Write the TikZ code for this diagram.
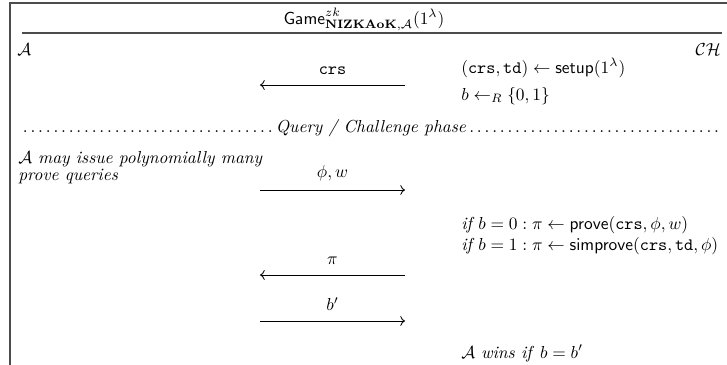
\documentclass[tikz,border=0pt]{standalone}
\usepackage{amsmath, amssymb}
\usepackage{tikz}
\usetikzlibrary{arrows.meta, positioning}

\begin{document}
\begin{tikzpicture}[
    x=0.575pt, y=-0.575pt,
    frame/.style={draw=black!70, line width=0.8pt},
    party/.style={inner sep=0pt},
    txt/.style={anchor=base west, inner sep=0pt},
    msg/.style={->, line width=0.5pt},
    lbl/.style={midway, anchor=base, inner sep=0pt, yshift=6pt},
]
\useasboundingbox (0,0) rectangle (727,364);

% frame
\begin{scope}
\clip (0,0) rectangle (727,364);
\draw[frame] (10,370) -- (10,3) -- (740,3);
\end{scope}
\coordinate (ruleL) at (22,33);
\coordinate (ruleR) at (722,33);
\draw[frame] (ruleL) -- (ruleR);

\node[anchor=base] (title) at (364,24) {$\mathsf{Game}^{zk}_{\mathbf{NIZKAoK},\mathcal{A}}(1^\lambda)$};

% parties
\node[party, anchor=base west] (adv) at (17,55) {$\mathcal{A}$};
\node[party, anchor=base east] (ch) at (721,55) {$\mathcal{CH}$};

% setup
\node[txt] (setup) at (461,73) {$(\mathtt{crs},\mathtt{td})\leftarrow\mathsf{setup}(1^\lambda)$};
\node[txt] (coin) at (461,100) {$b\leftarrow_R\{0,1\}$};
\coordinate (crsR) at (405,85);
\coordinate (crsL) at (260,85);
\draw[msg] (crsR) -- (crsL) node[lbl] (crslbl) {$\mathtt{crs}$};

% phase separator
\node[anchor=base, inner sep=0pt] (phase) at (371,132)
    {\makebox[404pt]{\dotfill\textit{Query / Challenge phase}\dotfill}};

% queries
\node[txt] (note1) at (18,163) {$\mathcal{A}$ \textit{may issue polynomially many}};
\node[txt] (note2) at (18,180) {\textit{prove queries}};
\coordinate (qL) at (260,190);
\coordinate (qR) at (405,190);
\draw[msg] (qL) -- (qR) node[lbl, yshift=1pt] (qlbl) {$\phi, w$};

\node[txt] (prv0) at (461,229) {$\textit{if } b=0:\pi\leftarrow\mathsf{prove}(\mathtt{crs},\phi,w)$};
\node[txt] (prv1) at (461,250) {$\textit{if } b=1:\pi\leftarrow\mathsf{simprove}(\mathtt{crs},\mathtt{td},\phi)$};
\coordinate (pR) at (405,275);
\coordinate (pL) at (260,275);
\draw[msg] (pR) -- (pL) node[lbl] (plbl) {$\pi$};

% guess
\coordinate (gL) at (260,321);
\coordinate (gR) at (405,321);
\draw[msg] (gL) -- (gR) node[lbl] (glbl) {$b'$};
\node[txt] (win) at (461,358) {$\mathcal{A}$ \textit{wins if} $b=b'$};

\end{tikzpicture}
\end{document}
